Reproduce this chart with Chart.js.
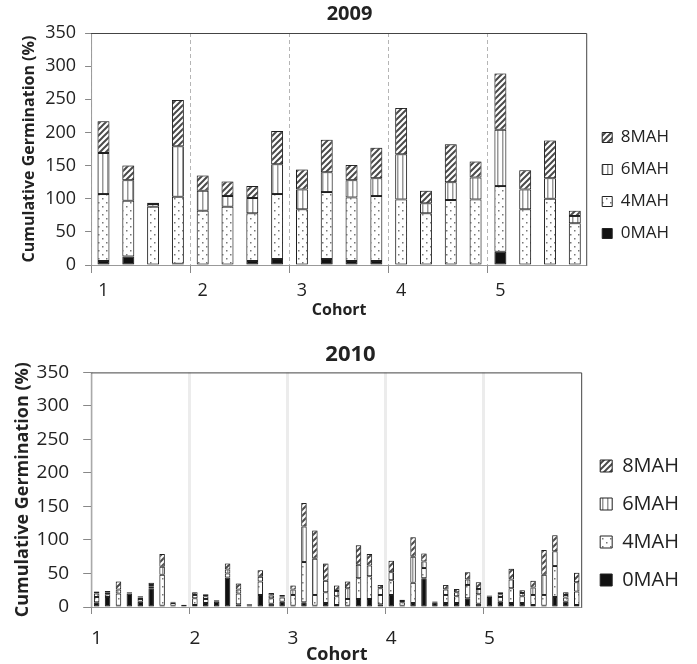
<!DOCTYPE html>
<html>
<head>
<meta charset="utf-8">
<title>Cumulative Germination 2009 / 2010</title>
<script src="https://cdn.jsdelivr.net/npm/chart.js@4.4.1/dist/chart.umd.min.js"></script>
<style>
  html, body { margin: 0; padding: 0; background: #fff; }
  .panel { position: absolute; left: 0; width: 697px; }
  #p2009 { top: 0; height: 320px; }
  #p2010 { top: 320px; height: 344px; }
</style>
</head>
<body>
<div class="panel" id="p2009"><canvas id="c2009" width="697" height="320"></canvas></div>
<div class="panel" id="p2010"><canvas id="c2010" width="697" height="344"></canvas></div>
<script>
'use strict';

// ── Data ──────────────────────────────────────────────────────
const cohorts     = ['1', '2', '3', '4', '5'];
const seriesNames = ['0MAH', '4MAH', '6MAH', '8MAH'];
const yMax  = 350;
const yStep = 50;

// 2009: 4 bars per cohort
const barsPerCohort2009 = 4;
const mah0_2009 = [6, 13, 0, 2,   0, 0, 6, 9,    0, 9, 6, 6,     0, 0, 0, 0,    20, 0, 0, 0];
const mah4_2009 = [101, 84, 88, 101, 82, 88, 72, 98, 84, 101, 96, 98, 99, 78, 98, 99, 99, 84, 100, 63];
const mah6_2009 = [62, 31, 4, 76,  30, 16, 23, 45, 30, 30, 26, 27,  68, 15, 27, 33, 85, 30, 31, 11];
const mah8_2009 = [48, 22, 2, 70,  23, 22, 18, 50, 30, 49, 23, 46,  70, 19, 57, 24, 85, 29, 57, 8];

// 2010: 9 bars per cohort
const barsPerCohort2010 = 9;
const mah0_2010 = [7, 15, 2, 20, 8, 28, 2, 2, 3,
                   3, 6, 8, 44, 4, 2, 18, 5, 8,
                   2, 7, 2, 6, 3, 2, 12, 12, 4,
                   18, 2, 6, 43, 7, 6, 6, 13, 5,
                   15, 8, 6, 6, 3, 2, 15, 8, 3];
const mah4_2010 = [8, 4, 18, 1, 4, 3, 46, 4, 0,
                   10, 6, 1, 6, 16, 2, 20, 8, 6,
                   16, 60, 16, 16, 13, 10, 31, 34, 14,
                   22, 5, 30, 15, 1, 12, 10, 20, 14,
                   1, 7, 22, 10, 15, 16, 46, 6, 20];
const mah6_2010 = [5, 3, 6, 1, 2, 2, 12, 1, 0,
                   5, 4, 1, 6, 6, 0.5, 7, 4, 2,
                   8, 53, 54, 17, 8, 16, 20, 16, 10,
                   12, 2, 39, 10, 0.5, 8, 6, 8, 8,
                   1, 4, 13, 5, 11, 30, 22, 4, 14];
const mah8_2010 = [3, 2, 12, 0, 2, 3, 19, 1, 0.5,
                   4, 3, 0, 9, 9, 0, 10, 4, 2,
                   6, 35, 42, 26, 8, 10, 29, 17, 5,
                   17, 2, 29, 12, 0, 7, 5, 11, 10,
                   0, 3, 16, 4, 10, 37, 24, 4, 14];

// ── Fill patterns ─────────────────────────────────────────────
function makePattern(kind) {
  const c = document.createElement('canvas');
  const g = c.getContext('2d');
  if (kind === 'dots') {
    c.width = 8; c.height = 8;
    g.fillStyle = '#fff'; g.fillRect(0, 0, 8, 8);
    g.fillStyle = '#777';
    g.fillRect(2, 2, 1.5, 1.5);
    g.fillRect(6, 6, 1.5, 1.5);
  } else if (kind === 'vlines') {
    c.width = 5; c.height = 5;
    g.fillStyle = '#fff'; g.fillRect(0, 0, 5, 5);
    g.fillStyle = '#999';
    g.fillRect(2, 0, 1.5, 5);
  } else {
    c.width = 6; c.height = 6;
    g.fillStyle = '#fff'; g.fillRect(0, 0, 6, 6);
    g.strokeStyle = '#4a4a4a';
    g.lineWidth = 2;
    g.beginPath();
    g.moveTo(0, 6);  g.lineTo(6, 0);
    g.moveTo(-3, 3); g.lineTo(3, -3);
    g.moveTo(3, 9);  g.lineTo(9, 3);
    g.stroke();
  }
  return g.createPattern(c, 'repeat');
}

const fills = ['#111', makePattern('dots'), makePattern('vlines'), makePattern('hatch')];

// ── Plugins ───────────────────────────────────────────────────
const framePlugin = {
  id: 'frame',
  afterDraw(chart) {
    const { ctx, chartArea: a } = chart;
    ctx.save();
    ctx.lineWidth = 1;
    ctx.strokeStyle = '#999';
    ctx.beginPath();
    ctx.moveTo(a.left + 0.5, a.top);
    ctx.lineTo(a.left + 0.5, a.bottom + 0.5);
    ctx.lineTo(a.right, a.bottom + 0.5);
    ctx.stroke();
    ctx.strokeStyle = '#444';
    ctx.beginPath();
    ctx.moveTo(a.left, a.top + 0.5);
    ctx.lineTo(a.right - 0.5, a.top + 0.5);
    ctx.lineTo(a.right - 0.5, a.bottom + 0.5);
    ctx.stroke();
    ctx.restore();
  }
};

const haloPlugin = {
  id: 'halo',
  beforeDatasetsDraw(chart) {
    const ctx = chart.ctx;
    ctx.save();
    ctx.shadowColor = 'rgba(0,0,0,0.35)';
    ctx.shadowBlur = 3;
  },
  afterDatasetsDraw(chart) {
    chart.ctx.restore();
  }
};

Chart.defaults.font.family = "'Open Sans', sans-serif";
Chart.defaults.color = '#222';

// ── Panel builder ─────────────────────────────────────────────
function buildPanel(canvasId, p) {
  const n = p.series[0].length;
  const labels = Array.from({ length: n }, (_, i) => cohorts[Math.floor(i / p.per)]);

  new Chart(document.getElementById(canvasId), {
    type: 'bar',
    data: {
      labels,
      datasets: p.series.map((vals, k) => ({
        label: seriesNames[k],
        data: vals,
        backgroundColor: fills[k],
        borderColor: '#222',
        borderWidth: 1,
        borderSkipped: false,
        categoryPercentage: 1,
        barPercentage: p.barPct
      }))
    },
    options: {
      responsive: false,
      animation: false,
      layout: { padding: p.layoutPad },
      plugins: {
        title: {
          display: true,
          text: p.title,
          color: '#222',
          font: { size: p.titleSize, weight: 'bold' },
          padding: p.titlePad
        },
        legend: {
          position: 'right',
          align: 'start',
          reverse: true,
          title: { display: true, text: '', font: { size: 10, lineHeight: 1 }, padding: { top: p.legendGap, bottom: 0 } },
          labels: {
            boxWidth: p.legendBox,
            boxHeight: p.legendBox,
            padding: p.legendPad,
            color: '#222',
            font: { size: p.legendSize }
          }
        },
        tooltip: { enabled: false }
      },
      scales: {
        x: {
          stacked: true,
          offset: true,
          border: { display: false, dash: p.gridDash },
          grid: {
            offset: true,
            drawTicks: true,
            tickLength: p.xTickLen,
            lineWidth: p.gridWidth,
            tickWidth: 1,
            color: ctx => (ctx.index % p.per === 0 ? p.gridColor : 'rgba(0,0,0,0)'),
            tickColor: ctx => (ctx.index % p.per === 0 ? '#888' : 'rgba(0,0,0,0)')
          },
          ticks: {
            autoSkip: false,
            maxRotation: 0,
            padding: p.xTickPad,
            color: '#222',
            font: { size: p.tickSize, lineHeight: 1 },
            callback: function (v, i) { return i % p.per === 0 ? this.getLabelForValue(v) : ''; }
          },
          title: {
            display: true,
            text: 'Cohort',
            color: '#222',
            font: { size: p.xTitleSize, weight: 'bold', lineHeight: 1 },
            padding: p.xTitlePad
          }
        },
        y: {
          stacked: true,
          min: 0,
          max: yMax,
          border: { display: false },
          grid: {
            drawOnChartArea: false,
            tickLength: p.yTickLen,
            color: '#888'
          },
          ticks: {
            stepSize: yStep,
            padding: p.yTickPad,
            color: '#222',
            font: { size: p.tickSize }
          },
          title: {
            display: true,
            text: 'Cumulative Germination (%)',
            color: '#222',
            font: { size: p.yTitleSize, weight: 'bold' },
            padding: p.yTitlePad
          }
        }
      }
    },
    plugins: [haloPlugin, framePlugin]
  });
}

// ── 2009 ──────────────────────────────────────────────────────
buildPanel('c2009', {
  title: '2009',
  per: barsPerCohort2009,
  series: [mah0_2009, mah4_2009, mah6_2009, mah8_2009],
  barPct: 0.48,
  layoutPad: { left: 20, right: 18, top: 0, bottom: 0 },
  titleSize: 20,
  titlePad: { top: 2, bottom: 7 },
  legendGap: 104,
  legendBox: 10,
  legendPad: 15,
  legendSize: 17,
  gridDash: [4, 3],
  gridColor: '#b5b5b5',
  gridWidth: 1,
  xTickLen: 8,
  xTickPad: 9,
  tickSize: 18,
  xTitleSize: 16,
  xTitlePad: { top: -7, bottom: 2 },
  yTickLen: 6,
  yTickPad: 9,
  yTitleSize: 16,
  yTitlePad: { top: 0, bottom: -3 }
});

// ── 2010 ──────────────────────────────────────────────────────
buildPanel('c2010', {
  title: '2010',
  per: barsPerCohort2010,
  series: [mah0_2010, mah4_2010, mah6_2010, mah8_2010],
  barPct: 0.5,
  layoutPad: { left: 12, right: 8, top: 0, bottom: 0 },
  titleSize: 22,
  titlePad: { top: 22, bottom: 4 },
  legendGap: 108,
  legendBox: 12,
  legendPad: 18,
  legendSize: 20,
  gridDash: [],
  gridColor: '#ececec',
  gridWidth: 3,
  xTickLen: 7,
  xTickPad: 15,
  tickSize: 19,
  xTitleSize: 18,
  xTitlePad: { top: -17, bottom: 0 },
  yTickLen: 8,
  yTickPad: 14,
  yTitleSize: 18,
  yTitlePad: { top: 0, bottom: -11 }
});
</script>
</body>
</html>
